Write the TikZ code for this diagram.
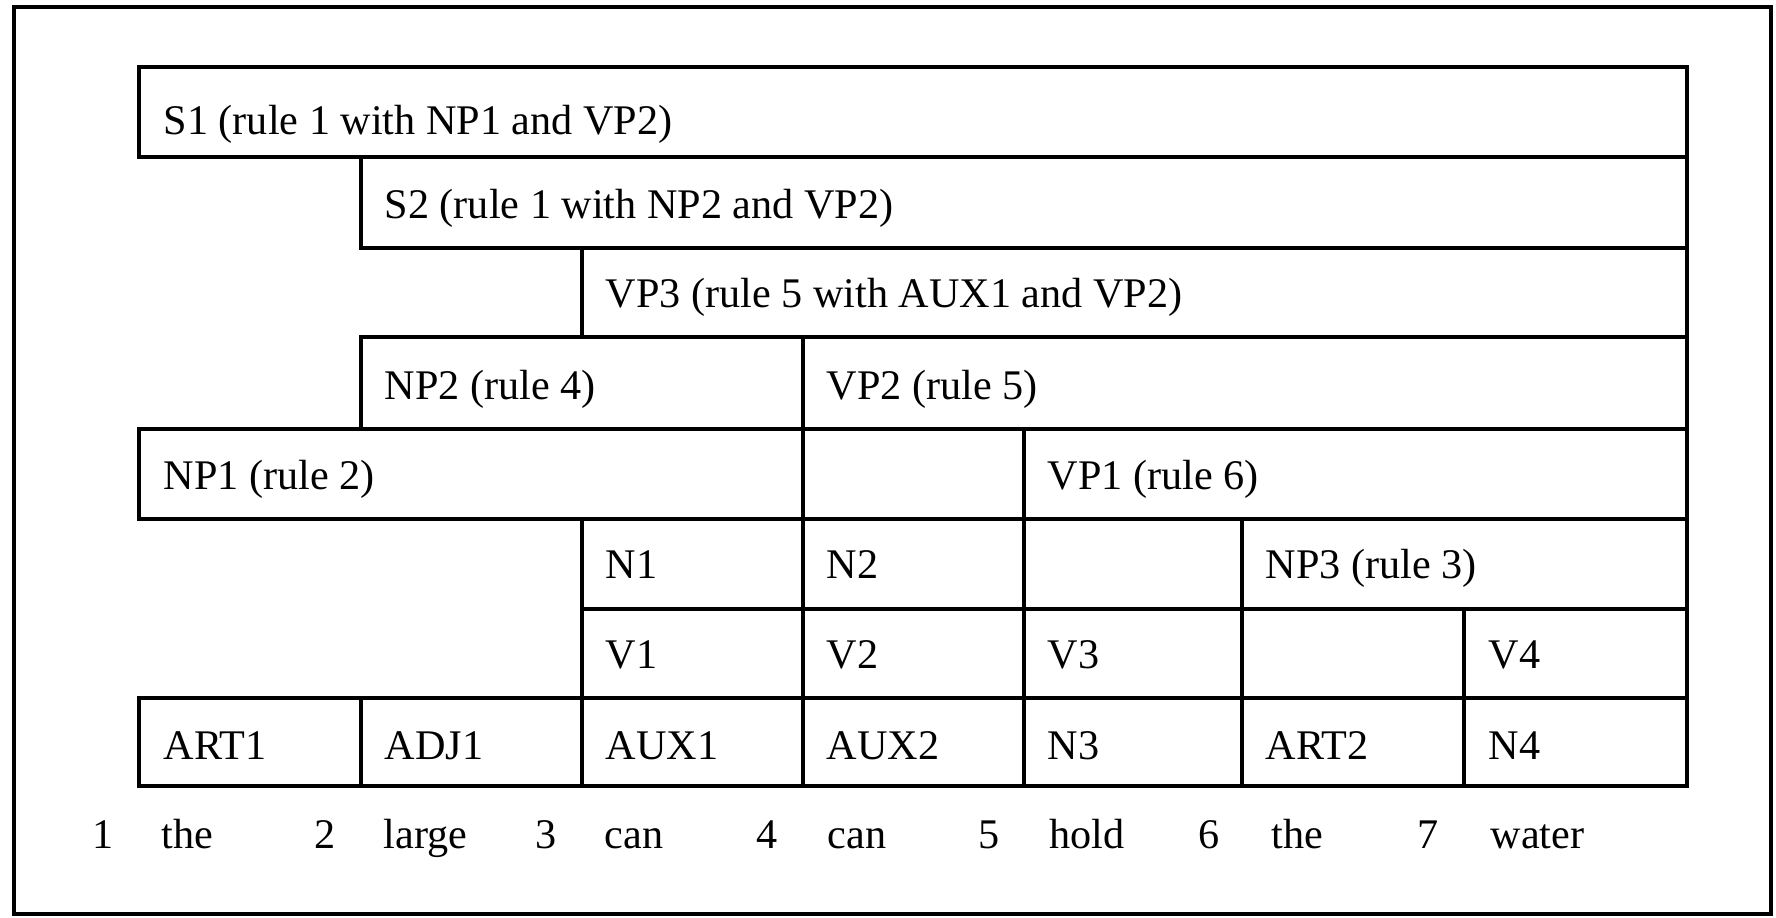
\documentclass[tikz,border=0pt]{standalone}
\usepackage{fontspec}
\setmainfont{Liberation Serif}
\begin{document}
\begin{tikzpicture}[x=0.01cm,y=-0.01cm,
  cell/.style={draw=black,line width=1.1pt},
  frameline/.style={draw=black,line width=1.3pt},
  lbl/.style={anchor=base west,inner sep=0pt,font=\fontsize{12}{14}\selectfont},
  num/.style={anchor=base east,inner sep=0pt,font=\fontsize{12}{14}\selectfont}]
\useasboundingbox (0,0) rectangle (1776,917);
\draw[frameline] (14,7) rectangle (1771,914);
% row 1
\draw[cell] (139,67) rectangle (1687,157);
\node[lbl] (s1) at (163,134) {S1 (rule 1 with NP1 and VP2)};
% row 2
\draw[cell] (361,157) rectangle (1687,248);
\node[lbl] (s2) at (384,218) {S2 (rule 1 with NP2 and VP2)};
% row 3
\draw[cell] (582,248) rectangle (1687,337);
\node[lbl] (vp3) at (605,307) {VP3 (rule 5 with AUX1 and VP2)};
% row 4
\draw[cell] (361,337) rectangle (803,429);
\node[lbl] (np2) at (384,399) {NP2 (rule 4)};
\draw[cell] (803,337) rectangle (1687,429);
\node[lbl] (vp2) at (826,399) {VP2 (rule 5)};
% row 5
\draw[cell] (139,429) rectangle (803,519);
\node[lbl] (np1) at (163,489) {NP1 (rule 2)};
\draw[cell] (1024,429) rectangle (1687,519);
\node[lbl] (vp1) at (1047,489) {VP1 (rule 6)};
% row 6
\draw[cell] (582,519) rectangle (803,609);
\node[lbl] (n1) at (605,578) {N1};
\draw[cell] (803,519) rectangle (1024,609);
\node[lbl] (n2) at (826,578) {N2};
\draw[cell] (1242,519) rectangle (1687,609);
\node[lbl] (np3) at (1265,578) {NP3 (rule 3)};
% row 7
\draw[cell] (582,609) rectangle (803,698);
\node[lbl] (v1) at (605,668) {V1};
\draw[cell] (803,609) rectangle (1024,698);
\node[lbl] (v2) at (826,668) {V2};
\draw[cell] (1024,609) rectangle (1242,698);
\node[lbl] (v3) at (1047,668) {V3};
\draw[cell] (1464,609) rectangle (1687,698);
\node[lbl] (v4) at (1488,668) {V4};
% row 8
\draw[cell] (139,698) rectangle (361,786);
\node[lbl] (art1) at (163,759) {ART1};
\draw[cell] (361,698) rectangle (582,786);
\node[lbl] (adj1) at (384,759) {ADJ1};
\draw[cell] (582,698) rectangle (803,786);
\node[lbl] (aux1) at (605,759) {AUX1};
\draw[cell] (803,698) rectangle (1024,786);
\node[lbl] (aux2) at (826,759) {AUX2};
\draw[cell] (1024,698) rectangle (1242,786);
\node[lbl] (n3) at (1047,759) {N3};
\draw[cell] (1242,698) rectangle (1464,786);
\node[lbl] (art2) at (1265,759) {ART2};
\draw[cell] (1464,698) rectangle (1687,786);
\node[lbl] (n4) at (1488,759) {N4};
% words and positions
\node[num] (p1) at (114,848) {1};
\node[lbl] (w1) at (161,848) {the};
\node[num] (p2) at (336,848) {2};
\node[lbl] (w2) at (383,848) {large};
\node[num] (p3) at (557,848) {3};
\node[lbl] (w3) at (604,848) {can};
\node[num] (p4) at (778,848) {4};
\node[lbl] (w4) at (827,848) {can};
\node[num] (p5) at (1000,848) {5};
\node[lbl] (w5) at (1049,848) {hold};
\node[num] (p6) at (1220,848) {6};
\node[lbl] (w6) at (1271,848) {the};
\node[num] (p7) at (1439,848) {7};
\node[lbl] (w7) at (1490,848) {water};
\end{tikzpicture}
\end{document}
